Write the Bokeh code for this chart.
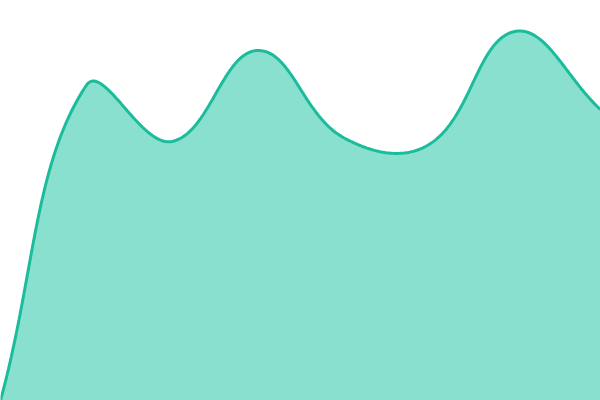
import numpy as np
from bokeh.plotting import figure
from bokeh.models import Range1d, GlobalInlineStyleSheet
from bokeh.embed import file_html
from bokeh.resources import INLINE

# ---- data ----
categories = ["1", "2", "3", "4", "5", "6", "7", "8"]
values = [0, 78.75, 64.75, 87.5, 65.75, 64.0, 92.25, 72.75]
y_max = 100
tension = 0.4

W, H = 600, 400


def spline_path(px, py, t=0.4, n=60):
    """Chart.js-style spline through the points (render only)."""
    pts = list(zip(px, py))
    m = len(pts)
    cps = []
    for i in range(m):
        cur = pts[i]
        prev = pts[i - 1] if i > 0 else cur
        nxt = pts[i + 1] if i < m - 1 else cur
        d01 = np.hypot(cur[0] - prev[0], cur[1] - prev[1])
        d12 = np.hypot(nxt[0] - cur[0], nxt[1] - cur[1])
        tot = d01 + d12
        s01 = d01 / tot if tot else 0
        s12 = d12 / tot if tot else 0
        fa, fb = t * s01, t * s12
        cps.append(((cur[0] - fa * (nxt[0] - prev[0]), cur[1] - fa * (nxt[1] - prev[1])),
                    (cur[0] + fb * (nxt[0] - prev[0]), cur[1] + fb * (nxt[1] - prev[1]))))
    out_x, out_y = [pts[0][0]], [pts[0][1]]
    tt = np.linspace(0, 1, n)[1:]
    for i in range(m - 1):
        p1, p2 = pts[i], pts[i + 1]
        c1 = cps[i][1]
        c2 = cps[i + 1][0]
        bx = (1 - tt) ** 3 * p1[0] + 3 * (1 - tt) ** 2 * tt * c1[0] + 3 * (1 - tt) * tt ** 2 * c2[0] + tt ** 3 * p2[0]
        by = (1 - tt) ** 3 * p1[1] + 3 * (1 - tt) ** 2 * tt * c1[1] + 3 * (1 - tt) * tt ** 2 * c2[1] + tt ** 3 * p2[1]
        out_x.extend(bx)
        out_y.extend(by)
    return np.array(out_x), np.array(out_y)


n = len(values)
# shape computed in screen-like units, then mapped back to data units
sx = [i / (n - 1) * W for i in range(n)]
sy = [v / y_max * H for v in values]
cx, cy = spline_path(sx, sy, tension)
xs = cx / W * (n - 1)
ys = np.clip(cy / H * y_max, 0, y_max)

p = figure(width=600, height=400, output_backend="svg", toolbar_location=None,
           x_range=Range1d(0, n - 1), y_range=Range1d(0, y_max),
           min_border=0)
p.axis.visible = False
p.grid.visible = False
p.outline_line_color = None
p.background_fill_color = "white"
p.border_fill_color = "white"

p.varea(x=xs, y1=np.zeros_like(ys), y2=ys, fill_color="#89e0cf", fill_alpha=1.0)
p.line(x=xs, y=ys, line_color="#1abc9c", line_width=3)

p.stylesheets = [GlobalInlineStyleSheet(css="html, body { margin: 0 !important; padding: 0 !important; overflow: hidden; }")]

open("out.html", "w").write(file_html(p, INLINE))
